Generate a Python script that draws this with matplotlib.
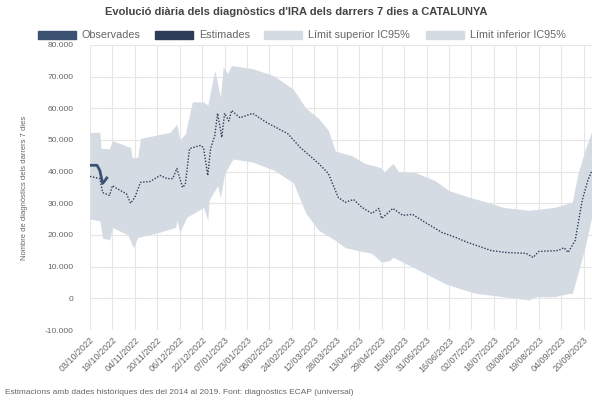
import numpy as np
import pandas as pd
import matplotlib
matplotlib.use("Agg")
import matplotlib.pyplot as plt
import matplotlib.dates as mdates
from matplotlib.ticker import FuncFormatter, MultipleLocator
from matplotlib.patches import Rectangle

# ── dades llegides del gràfic (dies des del 03/10/2022, valors en milers) ──
START = pd.Timestamp("2022-10-03")
LAST_DAY = 358

obs_days = [0, 5, 7, 9, 10, 12]
obs_vals = [42.0, 42.0, 40.4, 36.3, 36.8, 38.0]

est_days = [0, 7, 9, 14, 16, 19, 26, 29, 32, 36, 43, 50, 55, 59, 62, 66, 68, 71,
            79, 81, 84, 86, 89, 91, 94, 96, 99, 101, 107, 116, 126, 141, 150, 163,
            170, 177, 182, 188, 194, 201, 206, 208, 216, 223, 230, 239, 251, 261,
            269, 286, 296, 311, 316, 320, 334, 338, 341, 346, 351, 355, 358]
est_vals = [38.5, 37.8, 33.4, 32.5, 35.6, 34.7, 33.0, 30.0, 31.9, 36.6, 36.9, 38.8,
            37.8, 37.8, 41.0, 35.0, 36.0, 47.3, 48.3, 47.5, 38.8, 47.3, 51.4, 58.4,
            50.8, 58.4, 56.0, 59.3, 57.0, 58.4, 55.5, 52.0, 47.6, 42.6, 39.4, 31.9,
            30.3, 31.2, 28.7, 26.8, 28.4, 25.2, 28.4, 26.2, 26.5, 24.0, 20.8, 19.2,
            17.7, 15.1, 14.5, 14.2, 12.9, 14.8, 15.1, 16.0, 14.5, 18.3, 30.9, 37.2,
            40.4]

up_days = [0, 7, 8, 14, 16, 29, 30, 34, 36, 57, 62, 64, 68, 73, 81, 84, 89, 93,
           95, 98, 101, 116, 131, 145, 154, 163, 170, 175, 187, 196, 207, 210, 216,
           220, 232, 246, 256, 270, 286, 295, 313, 331, 341, 344, 348, 353, 358]
up_vals = [52.4, 52.4, 47.3, 47.3, 49.8, 47.6, 44.5, 44.5, 50.5, 52.4, 55.0, 50.0,
           52.0, 62.0, 62.0, 61.0, 72.0, 63.5, 73.0, 71.0, 73.5, 72.5, 70.3, 66.0,
           60.0, 56.8, 53.0, 46.5, 45.0, 42.6, 41.3, 40.0, 42.6, 40.0, 39.7, 37.2,
           34.0, 32.0, 30.0, 28.7, 27.8, 28.7, 30.0, 30.5, 39.4, 46.7, 53.0]

low_days = [0, 7, 9, 14, 16, 27, 31, 34, 49, 61, 62, 64, 69, 81, 84, 85, 91, 93,
            96, 102, 116, 131, 145, 154, 163, 175, 182, 191, 201, 208, 214, 216,
            225, 239, 253, 263, 275, 286, 313, 318, 331, 341, 344, 348, 353, 358]
low_vals = [25.0, 24.5, 19.0, 18.5, 22.4, 20.0, 16.0, 19.2, 20.8, 22.4, 24.6, 20.8,
            25.6, 28.7, 24.6, 31.0, 35.6, 31.9, 39.4, 44.0, 43.0, 40.5, 36.5, 26.8,
            21.5, 18.3, 16.0, 15.1, 14.2, 11.4, 12.0, 13.0, 11.0, 7.9, 4.7, 3.2,
            1.6, 1.0, -0.5, 0.5, 0.5, 1.5, 1.6, 7.9, 16.0, 26.0]

TITLE = "Evolució diària dels diagnòstics d'IRA dels darrers 7 dies a CATALUNYA"
YLABEL = "Nombre de diagnòstics dels darrers 7 dies"
FOOTER = ("Estimacions amb dades històriques des del 2014 al 2019. "
          "Font: diagnòstics ECAP (universal)")
LEG_LABELS = ["Observades", "Estimades", "Límit superior IC95%", "Límit inferior IC95%"]

C_OBS = "#3b5272"
C_EST = "#2c3d57"
C_BAND = "#d5dbe3"
C_TXT = "#666666"


def to_dates(days):
    return START + pd.to_timedelta(days, unit="D")


def thousands(v, _):
    return f"{int(round(v)):,}".replace(",", ".")


plt.rcParams.update({"font.family": ["Liberation Sans", "DejaVu Sans"]})

W, H = 592, 401
fig = plt.figure(figsize=(W / 100, H / 100), dpi=100)
ax = fig.add_axes([0.152, 0.177, 0.848, 0.711])

# banda IC95%
all_days = np.array(sorted(set(up_days) | set(low_days)))
upper = np.interp(all_days, up_days, up_vals) * 1000
lower = np.interp(all_days, low_days, low_vals) * 1000
ax.fill_between(to_dates(all_days), lower, upper, color=C_BAND, lw=0, zorder=1)

ax.plot(to_dates(est_days), np.array(est_vals) * 1000, color=C_EST, lw=1.0,
        ls=(0, (1, 1.2)), zorder=3)
ax.plot(to_dates(obs_days), np.array(obs_vals) * 1000, color=C_OBS, lw=2.0,
        zorder=4)

ax.set_xlim(START, START + pd.Timedelta(days=LAST_DAY))
ax.set_ylim(-10000, 80000)
ax.yaxis.set_major_locator(MultipleLocator(10000))
ax.yaxis.set_major_formatter(FuncFormatter(thousands))

xt = [START + pd.Timedelta(days=16 * k) for k in range(23)]
ax.set_xticks(xt)
ax.xaxis.set_major_formatter(mdates.DateFormatter("%d/%m/%Y"))
for lab in ax.get_xticklabels():
    lab.set_rotation(45)
    lab.set_ha("right")
    lab.set_rotation_mode("anchor")

ax.tick_params(axis="both", length=0, colors=C_TXT, labelsize=6)
ax.tick_params(axis="x", labelsize=6.5, pad=4)
ax.tick_params(axis="y", pad=12)
ax.grid(True, color="#e6e6e6", lw=0.8, zorder=0)
ax.set_axisbelow(True)
for s in ax.spines.values():
    s.set_visible(False)

ax.set_ylabel(YLABEL, fontsize=5.5, color=C_TXT, labelpad=12)

fig.text(0.5, 1 - 12 / H, TITLE, ha="center", va="center", fontsize=8,
         fontweight="bold", color="#444444")

# llegenda manual (caixes + text) a la fila superior
leg_y = 35
box_x = [38, 155, 264, 426]
box_c = [C_OBS, C_EST, C_BAND, C_BAND]
for bx, bc, lab in zip(box_x, box_c, LEG_LABELS):
    fig.patches.append(Rectangle((bx / W, 1 - (leg_y + 4) / H), 38 / W, 8 / H,
                                 transform=fig.transFigure, color=bc))
    fig.text((bx + 44) / W, 1 - leg_y / H, lab, ha="left", va="center",
             fontsize=7.8, color=C_TXT)

fig.text(0.008, 1 - 392 / H, FOOTER, ha="left", va="center", fontsize=6,
         color=C_TXT)

fig.savefig("out.png", dpi=100)
